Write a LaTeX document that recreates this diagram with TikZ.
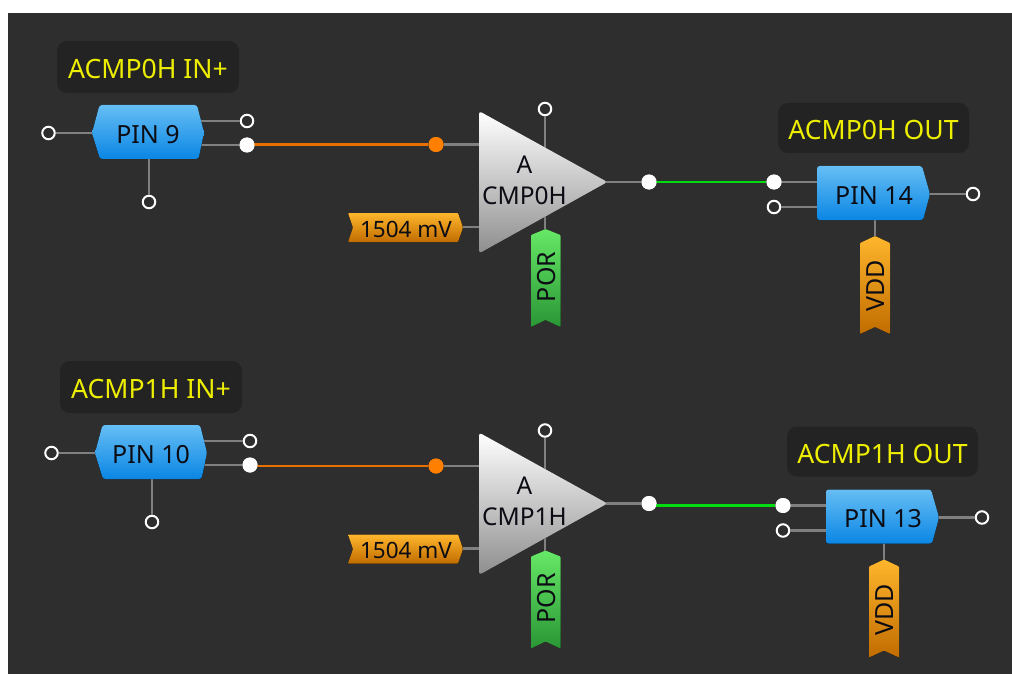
\documentclass[tikz,border=0pt]{standalone}
\usepackage{fontspec}
\setmainfont{Noto Sans}
\usetikzlibrary{calc}
\definecolor{bgc}{HTML}{2E2E2E}
\definecolor{boxc}{HTML}{232323}
\definecolor{stub}{HTML}{808080}
\definecolor{wireo}{HTML}{E87000}
\definecolor{doto}{HTML}{FF8000}
\definecolor{wireg}{HTML}{00DC10}
\definecolor{lab}{HTML}{EEEE00}
\definecolor{txt}{HTML}{0C0C14}
\definecolor{pintop}{HTML}{66BEF4}
\definecolor{pinbot}{HTML}{0A86E4}
\definecolor{ambtop}{HTML}{FFB62C}
\definecolor{ambbot}{HTML}{C06C00}
\definecolor{grntop}{HTML}{66E866}
\definecolor{grnbot}{HTML}{2A9635}
\definecolor{tribot}{HTML}{8E8E8E}
\tikzset{
  x=1pt,y=-1pt,
  stubline/.style={draw=stub,line width=2.4pt},
  orangewire/.style={draw=wireo,line width=2.6pt},
  greenwire/.style={draw=wireg,line width=2.8pt},
  opent/.style={circle,draw=white,fill=bgc,line width=2pt,minimum size=12.5pt,inner sep=0pt},
  filledt/.style={circle,fill=white,minimum size=15pt,inner sep=0pt},
  orangedot/.style={circle,fill=doto,minimum size=15pt,inner sep=0pt},
  labelbox/.style={rounded corners=10pt,fill=boxc,text=lab,font=\fontsize{26.6}{29}\selectfont,inner sep=0pt,text height=23pt,text depth=0pt},
  pinshape/.style={rounded corners=2.5pt,top color=pintop,bottom color=pinbot,draw=none},
  ambershape/.style={rounded corners=0.8pt,top color=ambtop,bottom color=ambbot},
  greenshape/.style={rounded corners=0.8pt,top color=grntop,bottom color=grnbot},
  triangleshape/.style={rounded corners=3pt,top color=white,bottom color=tribot},
  blocktext/.style={text=txt,font=\fontsize{25}{31}\selectfont,inner sep=0pt,align=center},
  cmptext/.style={text=txt,font=\fontsize{24.5}{31}\selectfont,inner sep=0pt,align=center},
  smalltext/.style={text=txt,font=\fontsize{22.5}{26}\selectfont,inner sep=0pt},
  sidetext/.style={text=txt,font=\fontsize{25}{28}\selectfont,inner sep=0pt,rotate=90},
}
% input pin: #1 name, #2 shift, #3 text, #4 label
\newcommand{\inputpin}[4]{
\begin{scope}[shift={#2}]
  \node[labelbox,minimum width=182pt,minimum height=52pt] (inlab#1) at (148,67) {#4};
  \node[opent] (inl#1) at (48.5,133) {};
  \node[opent] (inu#1) at (247,121) {};
  \node[filledt] (ino#1) at (247,145) {};
  \node[opent] (ind#1) at (149,202) {};
  \coordinate (pl#1) at (95,133);
  \coordinate (pu#1) at (199,121);
  \coordinate (po#1) at (199,145);
  \coordinate (pd#1) at (149,157);
  \draw[stubline] (inl#1) -- (pl#1);
  \draw[stubline] (inu#1) -- (pu#1);
  \draw[stubline] (ino#1) -- (po#1);
  \draw[stubline] (ind#1) -- (pd#1);
  \fill[pinshape] (92,133) -- (99.5,105) -- (197,105) -- (204,132.5) -- (198.5,159) -- (100,159) -- cycle;
  \node[blocktext] (intext#1) at (148,134.5) {#3};
\end{scope}}
% comparator: #1 name, #2 shift, #3 second text line
\newcommand{\comparator}[3]{
\begin{scope}[shift={#2}]
  \node[orangedot] (cd#1) at (436,144.5) {};
  \node[opent] (cu#1) at (545,109) {};
  \node[filledt] (co#1) at (649,182) {};
  \coordinate (ci#1) at (485,144.5);
  \coordinate (cm#1) at (545,155);
  \coordinate (cr#1) at (485,227);
  \coordinate (cv#1) at (463,227);
  \coordinate (cp#1) at (545,232);
  \coordinate (ct#1) at (600,182);
  \draw[stubline] (cd#1) -- (ci#1);
  \draw[stubline] (cu#1) -- (cm#1);
  \draw[stubline] (co#1) -- (ct#1);
  \draw[stubline] (cv#1) -- (cr#1);
  \draw[stubline] (cm#1) -- (cp#1);
  \fill[triangleshape] (479,111) -- (607.5,182) -- (479,253.5) -- cycle;
  \node[cmptext] (ctext#1) at (524.5,180) {A\\#3};
  \fill[ambershape] (348,213) -- (458,213) -- (463,227.5) -- (458,242) -- (348,242) -- (353,227.5) -- cycle;
  \node[smalltext] (cmv#1) at (406,229) {1504 mV};
  \fill[greenshape] (545.5,229) -- (560.5,235) -- (560.5,327) -- (545.5,320) -- (531,327) -- (531,235) -- cycle;
  \node[sidetext] (cpor#1) at (546.5,277) {POR};
\end{scope}}
% output pin: #1 name, #2 shift, #3 text, #4 label
\newcommand{\outputpin}[4]{
\begin{scope}[shift={#2}]
  \node[labelbox,minimum width=191pt,minimum height=50pt] (outlab#1) at (873.5,128) {#4};
  \node[filledt] (oi#1) at (774,182) {};
  \node[opent] (oe#1) at (774,207) {};
  \node[opent] (or#1) at (973,194) {};
  \coordinate (pi#1) at (822,182);
  \coordinate (pe#1) at (822,207);
  \coordinate (pr#1) at (925,194);
  \coordinate (pb#1) at (875,215);
  \coordinate (pv#1) at (875,238);
  \draw[stubline] (oi#1) -- (pi#1);
  \draw[stubline] (oe#1) -- (pe#1);
  \draw[stubline] (or#1) -- (pr#1);
  \draw[stubline] (pb#1) -- (pv#1);
  \fill[pinshape] (817,166) -- (922,166) -- (930,194) -- (923,220) -- (817,220) -- cycle;
  \node[blocktext] (otext#1) at (874,195.5) {#3};
  \fill[ambershape] (875,236) -- (890,243) -- (890,334) -- (875,327) -- (860,334) -- (860,243) -- cycle;
  \node[sidetext] (ovdd#1) at (876,286) {VDD};
\end{scope}}
\begin{document}
\begin{tikzpicture}
  \useasboundingbox (0,0) rectangle (1012,674);
  \fill[white] (0,0) rectangle (1012,674);
  \fill[bgc] (8,13) rectangle (1012,674);
  \inputpin{A}{(0,0)}{PIN 9}{ACMP0H IN+}
  \comparator{A}{(0,0)}{CMP0H}
  \outputpin{A}{(0,0)}{PIN 14}{ACMP0H OUT}
  \inputpin{B}{(3,320)}{PIN 10}{ACMP1H IN+}
  \comparator{B}{(0,321.5)}{CMP1H}
  \outputpin{B}{(9,323.5)}{PIN 13}{ACMP1H OUT}
  \draw[orangewire] (cdA -| inoA) -- (cdA);
  \draw[orangewire] (cdB -| inoB) -- (cdB);
  \draw[greenwire] (coA |- oiA) -- (oiA);
  \draw[greenwire] (coB |- oiB) -- (oiB);
  \node[filledt] (inoA2) at (inoA) {};
  \node[orangedot] (cdA2) at (cdA) {};
  \node[filledt] (coA2) at (coA) {};
  \node[filledt] (oiA2) at (oiA) {};
  \node[filledt] (inoB2) at (inoB) {};
  \node[orangedot] (cdB2) at (cdB) {};
  \node[filledt] (coB2) at (coB) {};
  \node[filledt] (oiB2) at (oiB) {};
\end{tikzpicture}
\end{document}
